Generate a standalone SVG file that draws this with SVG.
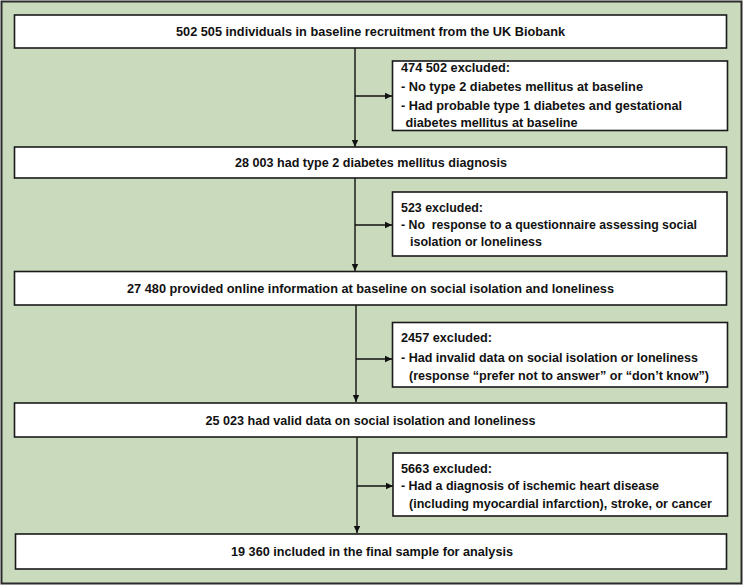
<svg xmlns="http://www.w3.org/2000/svg" width="744" height="586" viewBox="0 0 744 586">
<defs>
<marker id="ah" markerWidth="8" markerHeight="8" refX="7" refY="4" orient="auto" markerUnits="userSpaceOnUse">
<path d="M0,0.8 L7,4 L0,7.2 Z" fill="#111"/>
</marker>
<style>
.bg{fill:#cadbbd;stroke:#2a2a2a;stroke-width:2}
.box{fill:#fff;stroke:#1a1a1a;stroke-width:1.6}
.main{font-family:"Liberation Sans",Arial,sans-serif;font-weight:bold;font-size:13.5px;fill:#111;text-anchor:middle;dominant-baseline:central}
.ex{font-family:"Liberation Sans",Arial,sans-serif;font-weight:bold;font-size:13.5px;fill:#111;dominant-baseline:central}
.ln{fill:none;stroke:#111;stroke-width:1.4}
</style>
</defs>
<rect class="bg" x="1.5" y="1.5" width="740" height="582"/>
<g id="connectors">
<line class="ln" x1="355" y1="48" x2="355" y2="147" marker-end="url(#ah)"/>
<line class="ln" x1="355" y1="96" x2="392" y2="96" marker-end="url(#ah)"/>
<line class="ln" x1="355" y1="178" x2="355" y2="271" marker-end="url(#ah)"/>
<line class="ln" x1="355" y1="225" x2="392" y2="225" marker-end="url(#ah)"/>
<line class="ln" x1="356" y1="305" x2="356" y2="402" marker-end="url(#ah)"/>
<line class="ln" x1="356" y1="359" x2="392" y2="359" marker-end="url(#ah)"/>
<line class="ln" x1="357" y1="437" x2="357" y2="533" marker-end="url(#ah)"/>
<line class="ln" x1="357" y1="486" x2="393" y2="486" marker-end="url(#ah)"/>
</g>
<g id="n1">
<rect class="box" x="14.5" y="15" width="712" height="33"/>
<text class="main" x="370.5" y="31.5" textLength="389" lengthAdjust="spacingAndGlyphs">502 505 individuals in baseline recruitment from the UK Biobank</text>
</g>
<g id="e1">
<rect class="box" x="392.5" y="61" width="335" height="69.5"/>
<text class="ex" x="401" y="67.5" textLength="109" lengthAdjust="spacingAndGlyphs">474 502 excluded:</text>
<text class="ex" x="401" y="86.5" textLength="242" lengthAdjust="spacingAndGlyphs">- No type 2 diabetes mellitus at baseline</text>
<text class="ex" x="401" y="105" textLength="281" lengthAdjust="spacingAndGlyphs">- Had probable type 1 diabetes and gestational</text>
<text class="ex" x="405.5" y="122" textLength="172" lengthAdjust="spacingAndGlyphs">diabetes mellitus at baseline</text>
</g>
<g id="n2">
<rect class="box" x="14.5" y="147" width="712" height="31"/>
<text class="main" x="371" y="162" textLength="272" lengthAdjust="spacingAndGlyphs">28 003 had type 2 diabetes mellitus diagnosis</text>
</g>
<g id="e2">
<rect class="box" x="392.5" y="192" width="334.5" height="64"/>
<text class="ex" x="401" y="207" textLength="82" lengthAdjust="spacingAndGlyphs">523 excluded:</text>
<text class="ex" x="401" y="224.5" textLength="296" lengthAdjust="spacingAndGlyphs" xml:space="preserve">- No  response to a questionnaire assessing social</text>
<text class="ex" x="410" y="241.5" textLength="132" lengthAdjust="spacingAndGlyphs">isolation or loneliness</text>
</g>
<g id="n3">
<rect class="box" x="14.5" y="271.5" width="712" height="33.5"/>
<text class="main" x="370.5" y="288" textLength="487" lengthAdjust="spacingAndGlyphs">27 480 provided online information at baseline on social isolation and loneliness</text>
</g>
<g id="e3">
<rect class="box" x="392.5" y="322.5" width="335" height="64.5"/>
<text class="ex" x="401" y="337" textLength="91" lengthAdjust="spacingAndGlyphs">2457 excluded:</text>
<text class="ex" x="401" y="357" textLength="297" lengthAdjust="spacingAndGlyphs">- Had invalid data on social isolation or loneliness</text>
<text class="ex" x="409" y="375.5" textLength="300" lengthAdjust="spacingAndGlyphs">(response “prefer not to answer” or “don’t know”)</text>
</g>
<g id="n4">
<rect class="box" x="14.5" y="403" width="712" height="34"/>
<text class="main" x="370.5" y="420" textLength="330" lengthAdjust="spacingAndGlyphs">25 023 had valid data on social isolation and loneliness</text>
</g>
<g id="e4">
<rect class="box" x="393" y="453" width="334.5" height="63"/>
<text class="ex" x="401" y="468.5" textLength="91" lengthAdjust="spacingAndGlyphs">5663 excluded:</text>
<text class="ex" x="401" y="485.5" textLength="258" lengthAdjust="spacingAndGlyphs">- Had a diagnosis of ischemic heart disease</text>
<text class="ex" x="409" y="503.5" textLength="303" lengthAdjust="spacingAndGlyphs">(including myocardial infarction), stroke, or cancer</text>
</g>
<g id="n5">
<rect class="box" x="15.5" y="534" width="711" height="35"/>
<text class="main" x="372" y="551.5" textLength="282" lengthAdjust="spacingAndGlyphs">19 360 included in the final sample for analysis</text>
</g>
</svg>
